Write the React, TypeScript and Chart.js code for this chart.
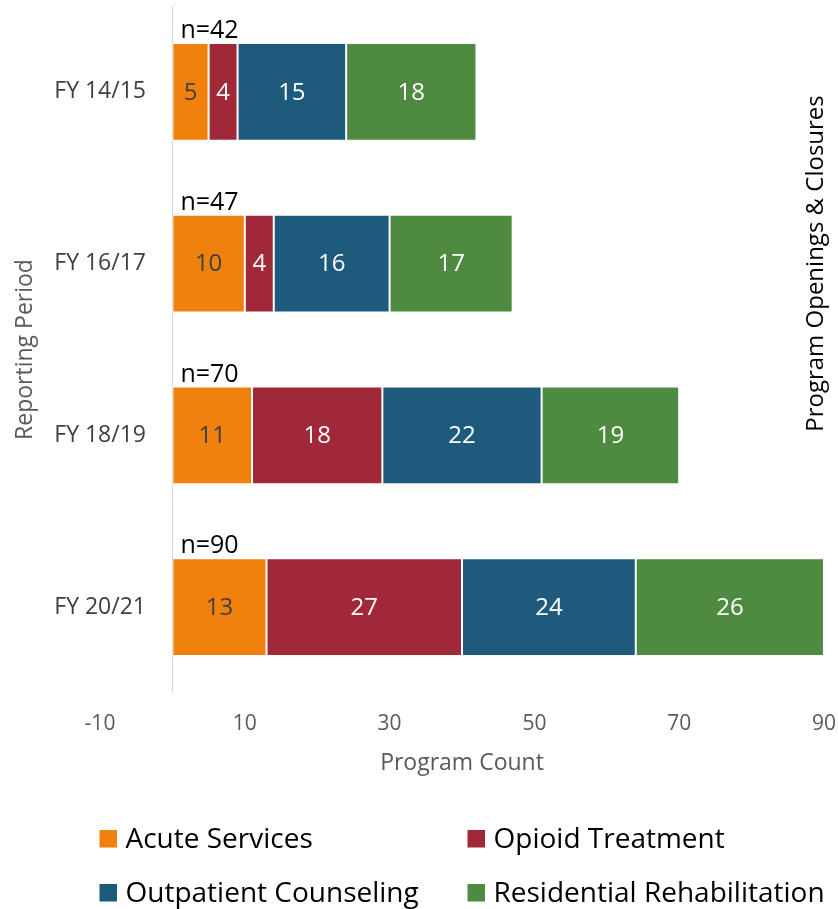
import React, { useEffect, useRef } from 'react';
import { Chart, registerables } from 'chart.js';

Chart.register(...registerables);

// ---- data ----
const categories = ['FY 14/15', 'FY 16/17', 'FY 18/19', 'FY 20/21'];
const seriesNames = ['Acute Services', 'Opioid Treatment', 'Outpatient Counseling', 'Residential Rehabilitation'];
const acuteServices = [5, 10, 11, 13];
const opioidTreatment = [4, 4, 18, 27];
const outpatientCounseling = [15, 16, 22, 24];
const residentialRehabilitation = [18, 17, 19, 26];
const totals = [42, 47, 70, 90];
const xTickValues = [-10, 10, 30, 50, 70, 90];
const xMin = -10;
const xMax = 90;
const xTitle = 'Program Count';
const yTitle = 'Reporting Period';
const sideTitle = 'Program Openings & Closures';

// ---- styles ----
const seriesColors = ['#F0810C', '#A12838', '#1E5A7C', '#4E8A3F'];
const valueLabelColors = ['#404040', '#FFFFFF', '#FFFFFF', '#FFFFFF'];
const FONT = "'Open Sans', sans-serif";

const overlayPlugin = {
  id: 'overlay',
  beforeDatasetsDraw(chart: any) {
    const { ctx, chartArea, scales } = chart;
    const x0 = Math.round(scales.x.getPixelForValue(0)) + 0.5;
    ctx.save();
    ctx.strokeStyle = '#D9D9D9';
    ctx.lineWidth = 1;
    ctx.beginPath();
    ctx.moveTo(x0, chartArea.top);
    ctx.lineTo(x0, chartArea.bottom);
    ctx.stroke();
    ctx.restore();
  },
  afterDatasetsDraw(chart: any) {
    const { ctx, scales } = chart;
    ctx.save();
    // value labels
    chart.data.datasets.forEach((ds: any, di: number) => {
      const meta = chart.getDatasetMeta(di);
      meta.data.forEach((el: any, i: number) => {
        const v = ds.data[i];
        const cx = (el.x + el.base) / 2;
        ctx.font = `24px ${FONT}`;
        ctx.fillStyle = valueLabelColors[di];
        ctx.textAlign = 'center';
        ctx.textBaseline = 'middle';
        ctx.fillText(String(v), cx, el.y + 1);
      });
    });
    // n= labels
    const meta0 = chart.getDatasetMeta(0);
    const xStart = scales.x.getPixelForValue(0) + 8;
    meta0.data.forEach((el: any, i: number) => {
      const top = el.y - el.height / 2;
      ctx.font = `25px ${FONT}`;
      ctx.fillStyle = '#000000';
      ctx.textAlign = 'left';
      ctx.textBaseline = 'alphabetic';
      ctx.fillText(`n=${totals[i]}`, xStart, top - 5);
    });
    ctx.restore();
  },
  afterDraw(chart: any) {
    const { ctx, chartArea, scales } = chart;
    ctx.save();
    // category labels
    categories.forEach((c, i) => {
      const y = scales.y.getPixelForValue(i);
      ctx.font = `23px ${FONT}`;
      ctx.fillStyle = '#404040';
      ctx.textAlign = 'right';
      ctx.textBaseline = 'middle';
      ctx.fillText(c, 146, y);
    });
    // y title
    ctx.save();
    ctx.translate(32, (chartArea.top + chartArea.bottom) / 2);
    ctx.rotate(-Math.PI / 2);
    ctx.font = `23px ${FONT}`;
    ctx.fillStyle = '#595959';
    ctx.textAlign = 'center';
    ctx.textBaseline = 'alphabetic';
    ctx.fillText(yTitle, 0, 0);
    ctx.restore();
    // side title
    ctx.save();
    ctx.translate(823, 263.5);
    ctx.rotate(-Math.PI / 2);
    ctx.font = `24px ${FONT}`;
    ctx.fillStyle = '#000000';
    ctx.textAlign = 'center';
    ctx.textBaseline = 'alphabetic';
    ctx.fillText(sideTitle, 0, 0);
    ctx.restore();
    // legend
    const cols = [99.5, 467.5];
    const rowBaselines = [848, 902];
    seriesNames.forEach((name, i) => {
      const col = i % 2;
      const row = Math.floor(i / 2);
      const x = cols[col];
      const base = rowBaselines[row];
      ctx.fillStyle = seriesColors[i];
      ctx.fillRect(x, base - 18, 17.5, 17.5);
      ctx.font = `28px ${FONT}`;
      ctx.fillStyle = '#000000';
      ctx.textAlign = 'left';
      ctx.textBaseline = 'alphabetic';
      ctx.fillText(name, x + 26, base);
    });
    ctx.restore();
  },
};

export default function App() {
  const canvasRef = useRef<HTMLCanvasElement | null>(null);

  useEffect(() => {
    const canvas = canvasRef.current;
    if (!canvas) return;
    const seriesValues = [acuteServices, opioidTreatment, outpatientCounseling, residentialRehabilitation];
    const chart = new Chart(canvas, {
      type: 'bar',
      data: {
        labels: categories,
        datasets: seriesNames.map((name, i) => ({
          label: name,
          data: seriesValues[i],
          backgroundColor: seriesColors[i],
          borderColor: 'rgba(255,255,255,0.35)',
          borderWidth: 1,
          borderSkipped: false,
          barPercentage: 0.569,
          categoryPercentage: 1,
        })),
      },
      options: {
        indexAxis: 'y',
        responsive: false,
        animation: false,
        events: [],
        layout: { padding: { top: 6, left: 100, right: 14, bottom: 126 } },
        plugins: {
          legend: { display: false },
          tooltip: { enabled: false },
        },
        scales: {
          x: {
            type: 'linear',
            stacked: true,
            min: xMin,
            max: xMax,
            afterBuildTicks: (s: any) => {
              s.ticks = xTickValues.map((v) => ({ value: v }));
            },
            afterFit: (s: any) => {
              s.height = 90;
              s.paddingLeft = 0;
              s.paddingRight = 0;
            },
            grid: { display: false, drawTicks: false },
            border: { display: false },
            ticks: {
              padding: 18,
              color: '#595959',
              font: { family: FONT, size: 21 },
            },
            title: {
              display: true,
              text: xTitle,
              color: '#595959',
              font: { family: FONT, size: 23 },
              padding: { top: 4, bottom: 6 },
            },
          },
          y: {
            type: 'category',
            stacked: true,
            display: false,
          },
        },
      },
      plugins: [overlayPlugin],
    } as any);
    return () => chart.destroy();
  }, []);

  return (
    <div style={{ position: 'absolute', left: 0, top: 0, width: 838, height: 909, background: '#fff' }}>
      <canvas ref={canvasRef} width={838} height={909} style={{ display: 'block' }} />
    </div>
  );
}
